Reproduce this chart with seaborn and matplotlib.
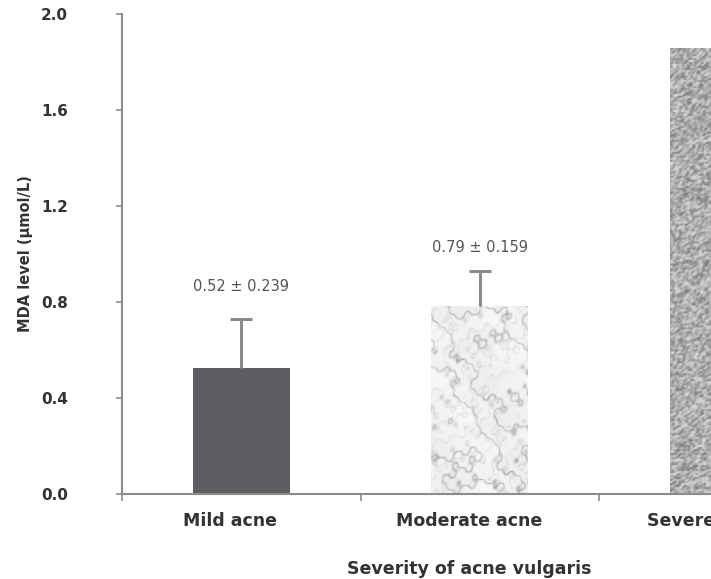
import matplotlib
matplotlib.use("Agg")
import matplotlib.pyplot as plt
import matplotlib.transforms as mtransforms
import seaborn as sns
import pandas as pd
import numpy as np

categories = ["Mild acne", "Moderate acne", "Severe acne"]
mda_mean = [0.525, 0.785, 1.86]
mda_err_drawn = [0.205, 0.145, 0.0]
value_labels = ["0.52 ± 0.239", "0.79 ± 0.159", ""]
yticks = [0.0, 0.4, 0.8, 1.2, 1.6, 2.0]

sns.set_theme(style="white")
plt.rcParams["font.family"] = ["DejaVu Sans"]

df = pd.DataFrame({"cat": categories, "val": mda_mean})

PX_PER_CAT = 238.5
XMAX = 2.1
fig = plt.figure(figsize=(7.11, 5.79), dpi=100)
ax = fig.add_axes([122 / 711, 85 / 579, (XMAX + 0.5) * PX_PER_CAT / 711, 480 / 579])

bar_colors = ["#5d5e62", "#ededed", "#a8a8a8"]
bar_width = 0.405
sns.barplot(data=df, x="cat", y="val", hue="cat", palette=bar_colors,
            width=bar_width, legend=False, ax=ax, saturation=1, linewidth=0)


# ---- decorative textures (marble / granite) clipped to the bars ----
def marble(nx, ny):
    X, Y = np.meshgrid(np.linspace(0, 1, nx), np.linspace(0, 2, ny))
    turb = (0.5 * np.sin(7.3 * X + 3.1 * Y) + 0.35 * np.sin(13.7 * Y - 5.2 * X + 1.3)
            + 0.2 * np.sin(29 * X + 23 * Y) + 0.1 * np.sin(53 * X - 41 * Y + 0.7))
    phase = 5 * (1.2 * X + 1.0 * Y) + 2.2 * turb
    vein = np.exp(-np.abs(np.sin(phase)) * 6)
    phase2 = 9 * (1.4 * X - 0.6 * Y) + 3.2 * turb
    vein2 = np.exp(-np.abs(np.sin(phase2)) * 9)
    return 0.95 - 0.25 * vein - 0.12 * vein2 - 0.02 * turb


def granite(nx, ny):
    gx, gy = np.meshgrid(np.arange(nx // 2 + 2), np.arange(ny // 2 + 2))
    h = np.sin(gx * 12.9898 + gy * 78.233) * 43758.5453
    h = h - np.floor(h)
    h = np.kron(h, np.ones((2, 2)))[:ny + 2, :nx + 2]
    s = (h[:-2, :-2] + h[1:-1, 1:-1] * 2 + h[2:, 2:] + h[1:-1, :-2] + h[1:-1, 2:]) / 6
    return 0.68 + 0.42 * (s - 0.5)


textures = [None, marble, granite]
for p, tex in zip(ax.patches, textures):
    if tex is None:
        continue
    x0, y0 = p.get_x(), p.get_y()
    w, hgt = p.get_width(), p.get_height()
    img = tex(100, int(hgt * 240) + 2)
    im = ax.imshow(img, cmap="gray", vmin=0, vmax=1, aspect="auto",
                   extent=[x0, x0 + w, y0, y0 + hgt], origin="lower",
                   interpolation="bilinear", zorder=p.get_zorder() + 0.1)
    im.set_clip_path(p)

xs = np.arange(len(categories))
for i in range(2):
    eb = ax.errorbar(xs[i], mda_mean[i], yerr=[[0], [mda_err_drawn[i]]],
                     fmt="none", ecolor="#8b8b8b", elinewidth=2.2,
                     capsize=8.0, capthick=2.2, zorder=5)
    eb.lines[1][0].set_visible(False)

label_offsets = [0.135, 0.095]
for i in range(2):
    ax.text(xs[i], mda_mean[i] + mda_err_drawn[i] + label_offsets[i],
            value_labels[i], ha="center", va="center", fontsize=10.5,
            color="#555555")

ax.set_yticks(yticks)
ax.set_yticklabels([f"{t:.1f}" for t in yticks])
ax.set_xticks(xs)
ax.set_xticklabels(categories)
ax.set_xticks([-0.5, 0.5, 1.5], minor=True)
ax.set_xlim(-0.5, XMAX)
ax.set_ylim(0, 2.0)

for s in ["top", "right"]:
    ax.spines[s].set_visible(False)
for s in ["left", "bottom"]:
    ax.spines[s].set_color("#8c8c8c")
    ax.spines[s].set_linewidth(1.5)

ax.tick_params(axis="y", which="major", left=True, length=4, width=1.2,
               color="#8c8c8c", pad=35, labelsize=11, labelcolor="#333333")
ax.tick_params(axis="x", which="major", bottom=False, length=0, pad=13,
               labelsize=12.5, labelcolor="#333333")
ax.tick_params(axis="x", which="minor", bottom=True, length=5, width=1.2,
               color="#8c8c8c")
shift = mtransforms.ScaledTranslation(-11 / 100, 0, fig.dpi_scale_trans)
for lab in ax.get_xticklabels():
    lab.set_fontweight("bold")
    lab.set_transform(lab.get_transform() + shift)
for lab in ax.get_yticklabels():
    lab.set_fontweight("bold")

ax.set_xlabel("Severity of acne vulgaris", fontsize=12.5, fontweight="bold",
              color="#333333")
ax.xaxis.set_label_coords(((469 - 122) / PX_PER_CAT) / (XMAX + 0.5),
                          -(560 - 494) / 480)
ax.set_ylabel("MDA level (µmol/L)", fontsize=10.5, fontweight="bold",
              color="#333333")
ax.yaxis.set_label_coords(((33 - 122) / PX_PER_CAT) / (XMAX + 0.5), 0.5)

fig.savefig("out.png", dpi=100)
